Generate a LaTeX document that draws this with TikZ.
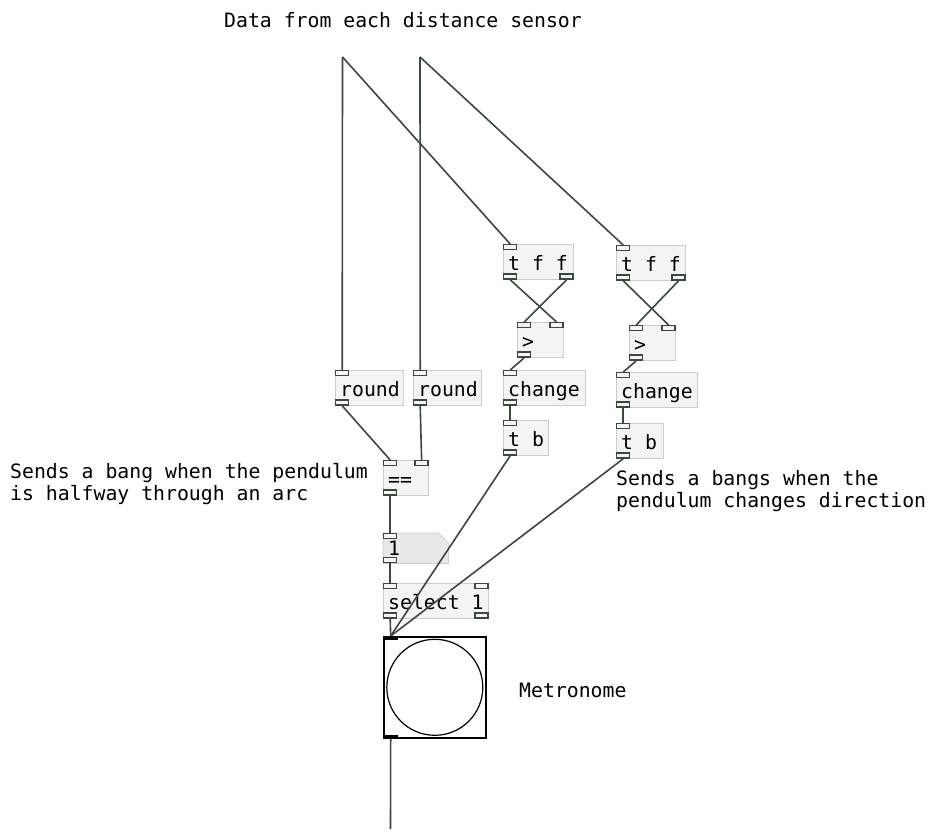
\documentclass[tikz,border=0pt]{standalone}
\usepackage{fontspec}
\setmainfont{DejaVu Sans Mono}
\definecolor{wirec}{RGB}{58,74,58}
\definecolor{boxfill}{RGB}{244,244,244}
\definecolor{boxline}{RGB}{204,204,204}
\definecolor{msgfill}{RGB}{232,232,232}
\tikzset{
  wire/.style={draw=wirec, line width=1.6pt},
  objbox/.style={draw=boxline, fill=boxfill, line width=0.8pt, minimum height=35pt, inner sep=0pt, anchor=north west},
  port/.style={draw=wirec, fill=boxfill, line width=1.4pt, minimum width=13pt, minimum height=5pt, inner sep=0pt},
  bngport/.style={fill=black, minimum width=15pt, minimum height=3.5pt, inner sep=0pt},
  pdtext/.style={inner sep=0pt, anchor=base west, font=\fontsize{19.8}{22}\selectfont},
}
% an object box: name, left, top, width, label
\newcommand\pdobject[5]{%
  \node[objbox, minimum width=#4pt] (#1) at (#2,#3) {};
  \node[pdtext] (#1t) at ([xshift=5pt,yshift=9pt]#1.south west) {#5};
  \node[port, anchor=north west] (#1in) at (#1.north west) {};
  \node[port, anchor=south west] (#1out) at (#1.south west) {};
}
\newcommand\rightinlet[1]{\node[port, anchor=north east] (#1inr) at (#1.north east) {};}
\newcommand\rightoutlet[1]{\node[port, anchor=south east] (#1outr) at (#1.south east) {};}
\begin{document}
\begin{tikzpicture}[x=1pt,y=-1pt]
\useasboundingbox (0,0) rectangle (933,829);

% comments
\node[pdtext] (title) at (224,28) {Data from each distance sensor};
\node[pdtext] (cA1) at (10,478) {Sends a bang when the pendulum};
\node[pdtext] (cA2) at (10,500) {is halfway through an arc};
\node[pdtext] (cB1) at (616,485) {Sends a bangs when the};
\node[pdtext] (cB2) at (616,507) {pendulum changes direction};
\node[pdtext] (metro) at (519,697) {Metronome};

% sensor inputs and final output
\coordinate (s1) at (342.5,57);
\coordinate (s2) at (420,57);
\coordinate (fin) at (390.5,829);

% direction detection, first sensor
\pdobject{tffA}{503}{244}{70}{t f f}
\rightoutlet{tffA}
\pdobject{gtA}{517}{322}{46}{>}
\rightinlet{gtA}
\pdobject{chA}{503}{370}{82}{change}
\pdobject{tbA}{503}{420}{45}{t b}

% direction detection, second sensor
\pdobject{tffB}{616}{245}{69}{t f f}
\rightoutlet{tffB}
\pdobject{gtB}{629}{325}{46}{>}
\rightinlet{gtB}
\pdobject{chB}{616}{372}{81}{change}
\pdobject{tbB}{616}{423}{47}{t b}

% halfway detection
\pdobject{rdA}{335}{370}{68}{round}
\pdobject{rdB}{413}{370}{68}{round}
\pdobject{eq}{383}{460}{45}{==}
\rightinlet{eq}

% message box
\node[inner sep=0pt, minimum width=65pt, minimum height=30pt, anchor=north west] (msg) at (383,533) {};
\path[draw=boxline, fill=msgfill, line width=0.8pt]
  (msg.north west) -- ([xshift=-10pt]msg.north east) -- ([yshift=-10pt]msg.north east)
  -- (msg.south east) -- (msg.south west) -- cycle;
\node[pdtext] (msgt) at ([xshift=5pt,yshift=8pt]msg.south west) {1};
\node[port, anchor=north west] (msgin) at (msg.north west) {};
\node[port, anchor=south west] (msgout) at (msg.south west) {};

\pdobject{sel}{383}{583}{105}{select 1}
\rightinlet{sel}
\rightoutlet{sel}

% bang
\node[draw=black, fill=white, line width=1.6pt, minimum width=102pt, minimum height=101pt, inner sep=0pt, anchor=north west] (bng) at (383,636) {};
\node[draw=black, circle, line width=1.2pt, minimum size=96pt, inner sep=0pt] (bngc) at (bng.center) {};
\node[bngport, anchor=north west] (bngin) at (bng.north west) {};
\node[bngport, anchor=south west] (bngout) at (bng.south west) {};

% connections
\draw[wire] (s1) -- (rdAin.north);
\draw[wire] (s1) -- (tffAin.north);
\draw[wire] (s2) -- (rdBin.north);
\draw[wire] (s2) -- (tffBin.north);

\draw[wire] (tffAout.south) -- (gtAinr.north);
\draw[wire] (tffAoutr.south) -- (gtAin.north);
\draw[wire] (gtAout.south) -- (chAin.north);
\draw[wire] (chAout.south) -- (tbAin.north);
\draw[wire] (tbAout.south) -- (bngin.north);

\draw[wire] (tffBout.south) -- (gtBinr.north);
\draw[wire] (tffBoutr.south) -- (gtBin.north);
\draw[wire] (gtBout.south) -- (chBin.north);
\draw[wire] (chBout.south) -- (tbBin.north);
\draw[wire] (tbBout.south) -- (bngin.north);

\draw[wire] (rdAout.south) -- (eqin.north);
\draw[wire] (rdBout.south) -- (eqinr.north);
\draw[wire] (eqout.south) -- (msgin.north);
\draw[wire] (msgout.south) -- (selin.north);
\draw[wire] (selout.south) -- (bngin.north);
\draw[wire] (bngout.south) -- (fin);
\end{tikzpicture}
\end{document}
